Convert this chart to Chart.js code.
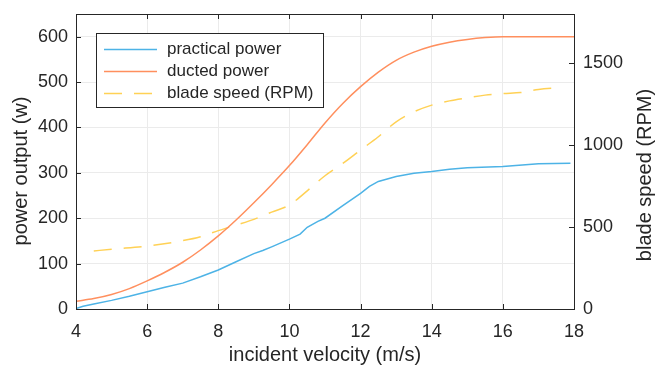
<!DOCTYPE html>
<html>
<head>
<meta charset="utf-8">
<script src="https://cdn.jsdelivr.net/npm/chart.js@4.4.0/dist/chart.umd.min.js"></script>
<style>
html, body { margin: 0; padding: 0; background: #fff; }
</style>
</head>
<body>
<canvas id="chPower" width="656" height="370"></canvas>
<script>
/* power output vs incident velocity, two y axes */

// values
var practicalSpeeds = [4, 4.2, 4.5, 5, 5.5, 6, 6.5, 7, 7.5, 8, 8.5, 9, 9.25, 9.5, 10, 10.3, 10.5, 10.8, 11, 11.5, 12, 12.25, 12.5, 13, 13.5, 14, 14.5, 15, 16, 17, 17.9];
var practicalPower = [1, 6, 11, 19, 28, 38, 48, 57, 71, 86, 104, 122, 129, 137, 154, 165, 180, 193, 200, 228, 255, 270, 281, 292, 299, 303, 308, 311, 314, 320, 321];

var ductedSpeeds = [4, 4.5, 5, 5.5, 6, 6.5, 7, 7.5, 8, 8.5, 9, 9.5, 10, 10.5, 11, 11.5, 12, 12.5, 13, 13.5, 14, 14.5, 15, 15.5, 16, 17, 18];
var ductedPower = [17, 23, 32, 45, 62, 81, 103, 130, 161, 196, 234, 274, 316, 362, 410, 453, 490, 522, 548, 566, 579, 588, 594, 598, 600, 600, 600];

var bladeSpeeds = [4.5, 5, 6, 7, 7.5, 8, 8.5, 9, 9.5, 10, 10.25, 10.5, 11, 11.5, 12, 12.5, 13, 13.5, 14, 14.5, 15, 15.5, 16, 16.5, 17, 17.6];
var bladeRpm = [354, 365, 384, 417, 441, 478, 512, 547, 591, 634, 675, 721, 813, 888, 970, 1051, 1142, 1203, 1244, 1270, 1288, 1305, 1315, 1321, 1340, 1350];

var velocityTicks = [4, 6, 8, 10, 12, 14, 16, 18];
var powerTicks = [0, 100, 200, 300, 400, 500, 600];
var rpmTicks = [0, 500, 1000, 1500];

var ink = '#262626';
var fontName = '"Liberation Sans", Arial, Helvetica, sans-serif';

function toPoints(xs, ys) {
  return xs.map(function (x, i) { return {x: x, y: ys[i]}; });
}

function fixTicks(list) {
  return function (scale) {
    scale.ticks = list.map(function (v) { return {value: v}; });
  };
}

function plainLabel(v) { return String(v); }

// fixed axis boxes so the plot area lands where the figure has it
function fitY(w) {
  return function (s) {
    s.width = w;
    s.paddingTop = 0;
    s.paddingBottom = 0;
  };
}

// box, inward tick marks and the axis titles (matlab look)
var frameTicks = {
  id: 'frameTicks',
  afterDatasetsDraw: function (chart) {
    var ctx = chart.ctx, a = chart.chartArea, len = 5;
    var sx = chart.scales.x, sl = chart.scales.yPower, sr = chart.scales.yRpm;
    ctx.save();
    ctx.strokeStyle = ink;
    ctx.lineWidth = 1;
    ctx.beginPath();
    sx.ticks.forEach(function (t) {
      var px = Math.round(sx.getPixelForValue(t.value)) + 0.5;
      ctx.moveTo(px, a.bottom); ctx.lineTo(px, a.bottom - len);
      ctx.moveTo(px, a.top); ctx.lineTo(px, a.top + len);
    });
    sl.ticks.forEach(function (t) {
      var py = Math.round(sl.getPixelForValue(t.value)) + 0.5;
      ctx.moveTo(a.left, py); ctx.lineTo(a.left + len, py);
    });
    sr.ticks.forEach(function (t) {
      var py = Math.round(sr.getPixelForValue(t.value)) + 0.5;
      ctx.moveTo(a.right, py); ctx.lineTo(a.right - len, py);
    });
    ctx.stroke();
    ctx.strokeRect(Math.round(a.left) + 0.5, Math.round(a.top) + 0.5,
      Math.round(a.right - a.left), Math.round(a.bottom - a.top));

    ctx.fillStyle = ink;
    ctx.font = '20px ' + fontName;
    ctx.textAlign = 'center';
    ctx.textBaseline = 'middle';
    ctx.save();
    ctx.translate(21, 171);
    ctx.rotate(-Math.PI / 2);
    ctx.fillText('power output (w)', 0, 0);
    ctx.restore();
    ctx.save();
    ctx.translate(645, 175);
    ctx.rotate(-Math.PI / 2);
    ctx.fillText('blade speed (RPM)', 0, 0);
    ctx.restore();
    ctx.fillText('incident velocity (m/s)', (a.left + a.right) / 2, 355);
    ctx.restore();
  }
};

// legend box inside the plot, upper left
var boxLegend = {
  id: 'boxLegend',
  afterDraw: function (chart) {
    var ctx = chart.ctx;
    ctx.save();
    ctx.fillStyle = '#fff';
    ctx.fillRect(96.5, 33.5, 227, 74);
    ctx.strokeStyle = ink;
    ctx.lineWidth = 1;
    ctx.strokeRect(96.5, 33.5, 227, 74);
    ctx.font = '17px ' + fontName;
    ctx.textBaseline = 'middle';
    ctx.textAlign = 'left';
    chart.data.datasets.forEach(function (ds, i) {
      var y = 49.5 + i * 22;
      ctx.strokeStyle = ds.borderColor;
      ctx.lineWidth = ds.borderWidth;
      ctx.setLineDash(ds.borderDash || []);
      ctx.beginPath();
      ctx.moveTo(104, y);
      ctx.lineTo(157, y);
      ctx.stroke();
      ctx.setLineDash([]);
      ctx.fillStyle = ink;
      ctx.fillText(ds.label, 167, y);
    });
    ctx.restore();
  }
};

var lineData = {
  datasets: [
    {
      label: 'practical power',
      data: toPoints(practicalSpeeds, practicalPower),
      borderColor: '#4db3e6',
      borderWidth: 1.5,
      yAxisID: 'yPower'
    },
    {
      label: 'ducted power',
      data: toPoints(ductedSpeeds, ductedPower),
      borderColor: '#ff8f5e',
      borderWidth: 1.5,
      cubicInterpolationMode: 'monotone',
      yAxisID: 'yPower'
    },
    {
      label: 'blade speed (RPM)',
      data: toPoints(bladeSpeeds, bladeRpm),
      borderColor: '#ffd155',
      borderWidth: 1.5,
      borderDash: [18, 12],
      cubicInterpolationMode: 'monotone',
      yAxisID: 'yRpm'
    }
  ]
};

var tickFont = {family: fontName, size: 18};

new Chart(document.getElementById('chPower'), {
  type: 'line',
  data: lineData,
  options: {
    responsive: false,
    animation: false,
    layout: {padding: {top: 14, left: 0, right: 0, bottom: 0}},
    elements: {point: {radius: 0}, line: {tension: 0}},
    plugins: {legend: {display: false}, tooltip: {enabled: false}},
    scales: {
      x: {
        type: 'linear',
        min: 4,
        max: 18,
        afterBuildTicks: fixTicks(velocityTicks),
        afterFit: function (s) { s.height = 61; s.paddingLeft = 0; s.paddingRight = 0; },
        grid: {color: '#ebebeb', drawTicks: false},
        border: {display: false},
        ticks: {color: ink, font: tickFont, padding: 12, callback: plainLabel}
      },
      yPower: {
        position: 'left',
        min: 0,
        max: 650,
        afterBuildTicks: fixTicks(powerTicks),
        afterFit: fitY(76),
        grid: {color: '#ebebeb', drawTicks: false},
        border: {display: false},
        ticks: {color: ink, font: tickFont, padding: 8, callback: plainLabel}
      },
      yRpm: {
        position: 'right',
        min: 0,
        max: 1800,
        afterBuildTicks: fixTicks(rpmTicks),
        afterFit: fitY(82),
        grid: {display: false, drawTicks: false},
        border: {display: false},
        ticks: {color: ink, font: tickFont, padding: 9, callback: plainLabel}
      }
    }
  },
  plugins: [frameTicks, boxLegend]
});
</script>
</body>
</html>
